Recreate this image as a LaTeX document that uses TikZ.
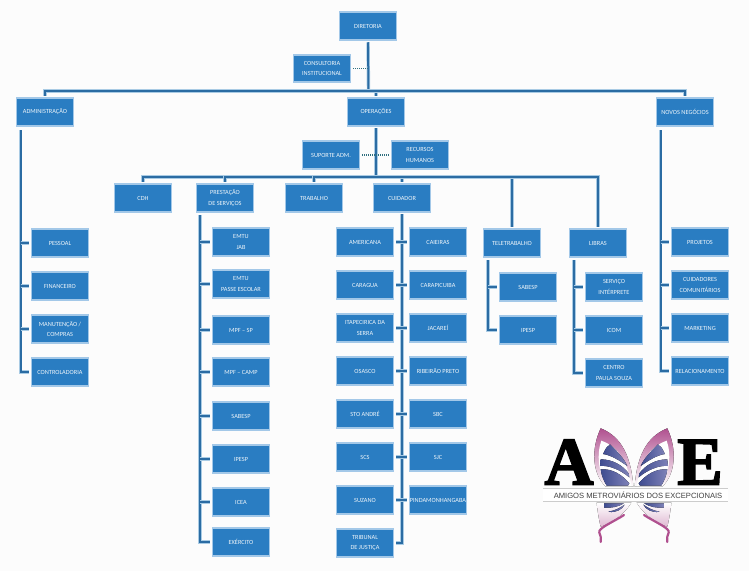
\documentclass[tikz,border=0pt]{standalone}
\usepackage{fontspec}
\setmainfont{Carlito}
\newfontfamily\logotitle[BoldFeatures={FakeBold=2.5}]{Liberation Serif}
\newfontfamily\logotag{Liberation Sans}
\definecolor{boxfill}{HTML}{2A7DC2}
\definecolor{boxedge}{HTML}{A3C8E8}
\definecolor{linedark}{HTML}{2B6CA3}
\definecolor{linelight}{HTML}{A9CBE4}
\definecolor{dotline}{HTML}{2F6F7F}
\definecolor{wingpink}{HTML}{B0508F}
\definecolor{wingdark}{HTML}{3F4C90}
\definecolor{winglight}{HTML}{7F82B8}
\tikzset{
  box/.style={draw=boxedge, fill=boxfill, line width=1.8pt, text=white!92!boxfill,
    minimum width=57pt, minimum height=27.5pt, inner sep=0pt, outer sep=2.5pt,
    align=center, font=\fontsize{6.3}{10.5}\selectfont},
  link/.style={preaction={draw=linelight, line width=3.4pt}, draw=linedark, line width=2pt},
  side/.style={draw=dotline, line width=1.4pt, dash pattern=on 1.2pt off 0.8pt},
  wing/.style={top color=wingpink, bottom color=white, draw=none},
  vein/.style={left color=wingdark, right color=winglight, draw=none},
}
\begin{document}
\begin{tikzpicture}[x=1pt, y=-1pt, node distance=43pt]

  \useasboundingbox[fill=black!1] (0,0) rectangle (749,571);

  % Top level
  \node[box] (dire) at (368,26) {DIRETORIA};
  \node[box] (cons) at (322,68.5) {CONSULTORIA\\INSTITUCIONAL};
  \node[box] (admi) at (45,112) {ADMINISTRAÇÃO};
  \node[box] (oper) at (376,112) {OPERAÇÕES};
  \node[box] (novo) at (685,112) {NOVOS NEGÓCIOS};
  \node[box] (supo) at (331,155) {SUPORTE ADM.};
  \node[box] (recu) at (420,155) {RECURSOS\\HUMANOS};
  % Operations row
  \node[box] (cdh) at (143,198) {CDH};
  \node[box] (pres) at (225,198) {PRESTAÇÃO\\DE SERVIÇOS};
  \node[box] (trab) at (314,198) {TRABALHO};
  \node[box] (cuid) at (402,198) {CUIDADOR};
  \node[box] (tele) at (512,243) {TELETRABALHO};
  \node[box] (libr) at (598,243) {LIBRAS};
  % Administration column
  \node[box] (pess) at (60,243) {PESSOAL};
  \node[box, below of=pess] (fina) {FINANCEIRO};
  \node[box, below of=fina] (manu) {MANUTENÇÃO /\\COMPRAS};
  \node[box, below of=manu] (cont) {CONTROLADORIA};
  % Services column
  \node[box] (jab) at (241,242) {EMTU\\JAB};
  \node[box] (pass) at (241,284) {EMTU\\PASSE ESCOLAR};
  \node[box] (mpfs) at (241,330) {MPF – SP};
  \node[box] (mpfc) at (241,372) {MPF – CAMP};
  \node[box] (sabs) at (241,416) {SABESP};
  \node[box, below of=sabs] (ipes) {IPESP};
  \node[box, below of=ipes] (icea) {ICEA};
  \node[box] (exer) at (241,542) {EXÉRCITO};
  % Carer columns
  \node[box] (amer) at (365,242) {AMERICANA};
  \node[box, below of=amer] (cara) {CARAGUA};
  \node[box, below of=cara] (itap) {ITAPECIRICA DA\\SERRA};
  \node[box, below of=itap] (osas) {OSASCO};
  \node[box, below of=osas] (stoa) {STO ANDRÉ};
  \node[box, below of=stoa] (scs) {SCS};
  \node[box, below of=scs] (suza) {SUZANO};
  \node[box, below of=suza] (trib) {TRIBUNAL\\DE JUSTIÇA};
  \node[box] (caie) at (438,242) {CAIEIRAS};
  \node[box, below of=caie] (carp) {CARAPICUIBA};
  \node[box, below of=carp] (jaca) {JACAREÍ};
  \node[box, below of=jaca] (ribe) {RIBEIRÃO PRETO};
  \node[box, below of=ribe] (sbc) {SBC};
  \node[box, below of=sbc] (sjc) {SJC};
  \node[box, below of=sjc] (pind) {PINDAMONHANGABA};
  % Remote work and sign language
  \node[box] (tsab) at (528,287) {SABESP};
  \node[box, below of=tsab] (tipe) {IPESP};
  \node[box] (serv) at (614,287) {SERVIÇO\\INTÉRPRETE};
  \node[box, below of=serv] (icom) {ICOM};
  \node[box, below of=icom] (cent) {CENTRO\\PAULA SOUZA};
  % New business column
  \node[box] (proj) at (700,242) {PROJETOS};
  \node[box, below of=proj] (comu) {CUIDADORES\\COMUNITÁRIOS};
  \node[box, below of=comu] (mark) {MARKETING};
  \node[box, below of=mark] (rela) {RELACIONAMENTO};

  % Hidden anchors for the buses and trunks
  \coordinate (busa) at (368.5,91);
  \coordinate (busb) at (376,177);
  \coordinate (tadm) at (20.5,130);
  \coordinate (tpre) at (200,215);
  \coordinate (ttel) at (488,260);
  \coordinate (tlib) at (574,260);
  \coordinate (tnov) at (660.5,130);

  % Top bus
  \path[link] (dire.south) to (busa);
  \path[link] (busa) -| (admi.north);
  \path[link] (busa) -| (oper.north);
  \path[link] (busa) -| (novo.north);
  \path[side] (cons.east) to (cons.east -| busa);
  % Operations bus
  \path[link] (oper.south) to (busb);
  \path[link] (busb) -| (cdh.north);
  \path[link] (busb) -| (pres.north);
  \path[link] (busb) -| (trab.north);
  \path[link] (busb) -| (cuid.north);
  \path[link] (busb) -| (tele.north);
  \path[link] (busb) -| (libr.north);
  \path[side] (supo.east) to (recu.west);
  % Administration branches
  \path[link] (tadm) |- (cont.west);
  \path[link] (tadm |- pess.west) to (pess.west);
  \path[link] (tadm |- fina.west) to (fina.west);
  \path[link] (tadm |- manu.west) to (manu.west);
  % Services branches
  \path[link] (tpre) |- (exer.west);
  \path[link] (tpre |- jab.west) to (jab.west);
  \path[link] (tpre |- pass.west) to (pass.west);
  \path[link] (tpre |- mpfs.west) to (mpfs.west);
  \path[link] (tpre |- mpfc.west) to (mpfc.west);
  \path[link] (tpre |- sabs.west) to (sabs.west);
  \path[link] (tpre |- ipes.west) to (ipes.west);
  \path[link] (tpre |- icea.west) to (icea.west);
  % Carer branches
  \path[link] (cuid.south) |- (trib.east);
  \path[link] (amer.east) to (caie.west);
  \path[link] (cara.east) to (carp.west);
  \path[link] (itap.east) to (jaca.west);
  \path[link] (osas.east) to (ribe.west);
  \path[link] (stoa.east) to (sbc.west);
  \path[link] (scs.east) to (sjc.west);
  \path[link] (suza.east) to (pind.west);
  % Remote work branches
  \path[link] (ttel) |- (tipe.west);
  \path[link] (ttel |- tsab.west) to (tsab.west);
  % Sign language branches
  \path[link] (tlib) |- (cent.west);
  \path[link] (tlib |- serv.west) to (serv.west);
  \path[link] (tlib |- icom.west) to (icom.west);
  % New business branches
  \path[link] (tnov) |- (rela.west);
  \path[link] (tnov |- proj.west) to (proj.west);
  \path[link] (tnov |- comu.west) to (comu.west);
  \path[link] (tnov |- mark.west) to (mark.west);

  % Logo, butterfly halves
  \begin{scope}[shift={(530,420)}, x=0.3333pt, y=-0.3333pt]
    \foreach \side in {1,-1} {
      \begin{scope}[shift={(312,0)}, xscale=\side]
        \fill[wing] (-100,25) .. controls (-50,45) and (-10,90) .. (-2,200)
          -- (-85,200) .. controls (-125,160) and (-130,90) .. (-100,25);
        \fill[white] (-98,62) .. controls (-60,75) and (-20,110) .. (-8,198)
          -- (-80,198) .. controls (-108,160) and (-112,100) .. (-98,62);
        \fill[vein] (-93,102) .. controls (-85,85) and (-80,78) .. (-72,73)
          .. controls (-50,95) and (-30,115) .. (-20,138) .. controls (-45,120) and (-70,105) .. (-93,102);
        \fill[vein] (-100,118) .. controls (-65,118) and (-35,135) .. (-16,160)
          -- (-14,172) .. controls (-40,150) and (-75,135) .. (-102,138) -- cycle;
        \fill[vein] (-100,148) .. controls (-65,145) and (-35,165) .. (-14,190)
          -- (-18,197) -- (-82,197) .. controls (-92,180) and (-98,165) .. (-100,148);
        \fill[wing, top color=white, bottom color=wingpink!40] (-112,248) -- (-8,248)
          .. controls (-30,285) and (-70,310) .. (-100,320) .. controls (-105,300) and (-110,270) .. (-112,248);
        \fill[vein] (-90,250) -- (-30,250) .. controls (-45,260) and (-70,265) .. (-90,263) -- cycle;
        \fill[vein] (-77,275) .. controls (-55,272) and (-40,262) .. (-28,254)
          .. controls (-35,268) and (-55,280) .. (-77,275);
        \draw[wingpink, line width=2.2pt, line cap=round] (-30,285) .. controls (-60,305) and (-110,325) .. (-104,338)
          .. controls (-100,350) and (-97,355) .. (-100,366);
      \end{scope}
    }
  \end{scope}
  % Logo, letters and name
  \node[anchor=base, inner sep=0pt, font=\logotitle\bfseries\fontsize{68}{68}\selectfont] (loga) at (569,484.5) {A};
  \node[anchor=base, inner sep=0pt, font=\logotitle\bfseries\fontsize{68}{68}\selectfont] (loge) at (700,484.5) {E};
  \fill[white] (543,488) rectangle (728,501);
  \draw[black!20, line width=0.7pt] (543,488) -- (728,488);
  \draw[black!20, line width=0.7pt] (543,501) -- (728,501);
  \node[inner sep=0pt, text=black!75, font=\logotag\fontsize{7.6}{9}\selectfont] (logt) at (638,495) {AMIGOS METROVIÁRIOS DOS EXCEPCIONAIS};

\end{tikzpicture}
\end{document}
